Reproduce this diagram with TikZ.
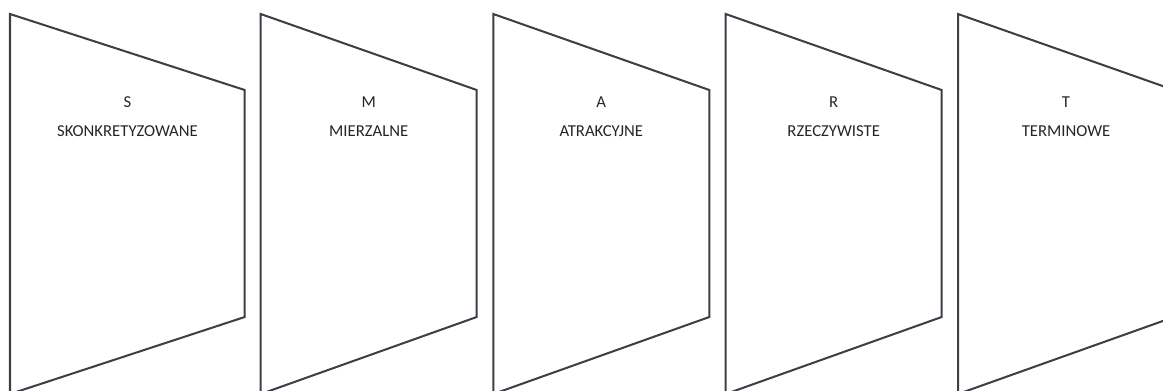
\documentclass[tikz,border=0pt]{standalone}
\usepackage{fontspec}
\setmainfont{Carlito}
\usepackage{tikz}
\usetikzlibrary{positioning}
\usepackage{xcolor}
\definecolor{edgegray}{RGB}{62, 62, 72}
\definecolor{textgray}{RGB}{38, 38, 38}

\begin{document}
\begin{tikzpicture}[
  x=0.02cm, y=-0.02cm,
  panel/.style={draw=edgegray, line width=1.15pt, fill=white, line join=miter},
  letter/.style={font=\fontsize{9.5}{11}\selectfont, text=textgray, inner sep=0pt, anchor=base},
  word/.style={font=\fontsize{9.5}{11}\selectfont, text=textgray, inner sep=0pt, anchor=base}
]
  \clip (0,0) rectangle (1163,390);

  % Panels
  \draw [panel] (10,14) -- (244.7,90) -- (244.7,317) -- (10,394) -- cycle;
  \draw [panel] (260.7,14) -- (476.7,90) -- (476.7,317) -- (260.7,394) -- cycle;
  \draw [panel] (493.3,14) -- (709.3,90) -- (709.3,317) -- (493.3,394) -- cycle;
  \draw [panel] (725.7,14) -- (941.7,90) -- (941.7,317) -- (725.7,394) -- cycle;
  \draw [panel] (958,14) -- (1174,90) -- (1174,317) -- (958,394) -- cycle;

  % Labels
  \node (s) [letter] at (127.4,107.3) {S};
  \node (sword) [word] at (127.4,136.7) {SKONKRETYZOWANE};
  \node (m) [letter] at (368.7,107.3) {M};
  \node (mword) [word] at (368.7,136.7) {MIERZALNE};
  \node (a) [letter] at (601.3,107.3) {A};
  \node (aword) [word] at (601.3,136.7) {ATRAKCYJNE};
  \node (r) [letter] at (833.7,107.3) {R};
  \node (rword) [word] at (833.7,136.7) {RZECZYWISTE};
  \node (t) [letter] at (1066,107.3) {T};
  \node (tword) [word] at (1066,136.7) {TERMINOWE};
\end{tikzpicture}
\end{document}
